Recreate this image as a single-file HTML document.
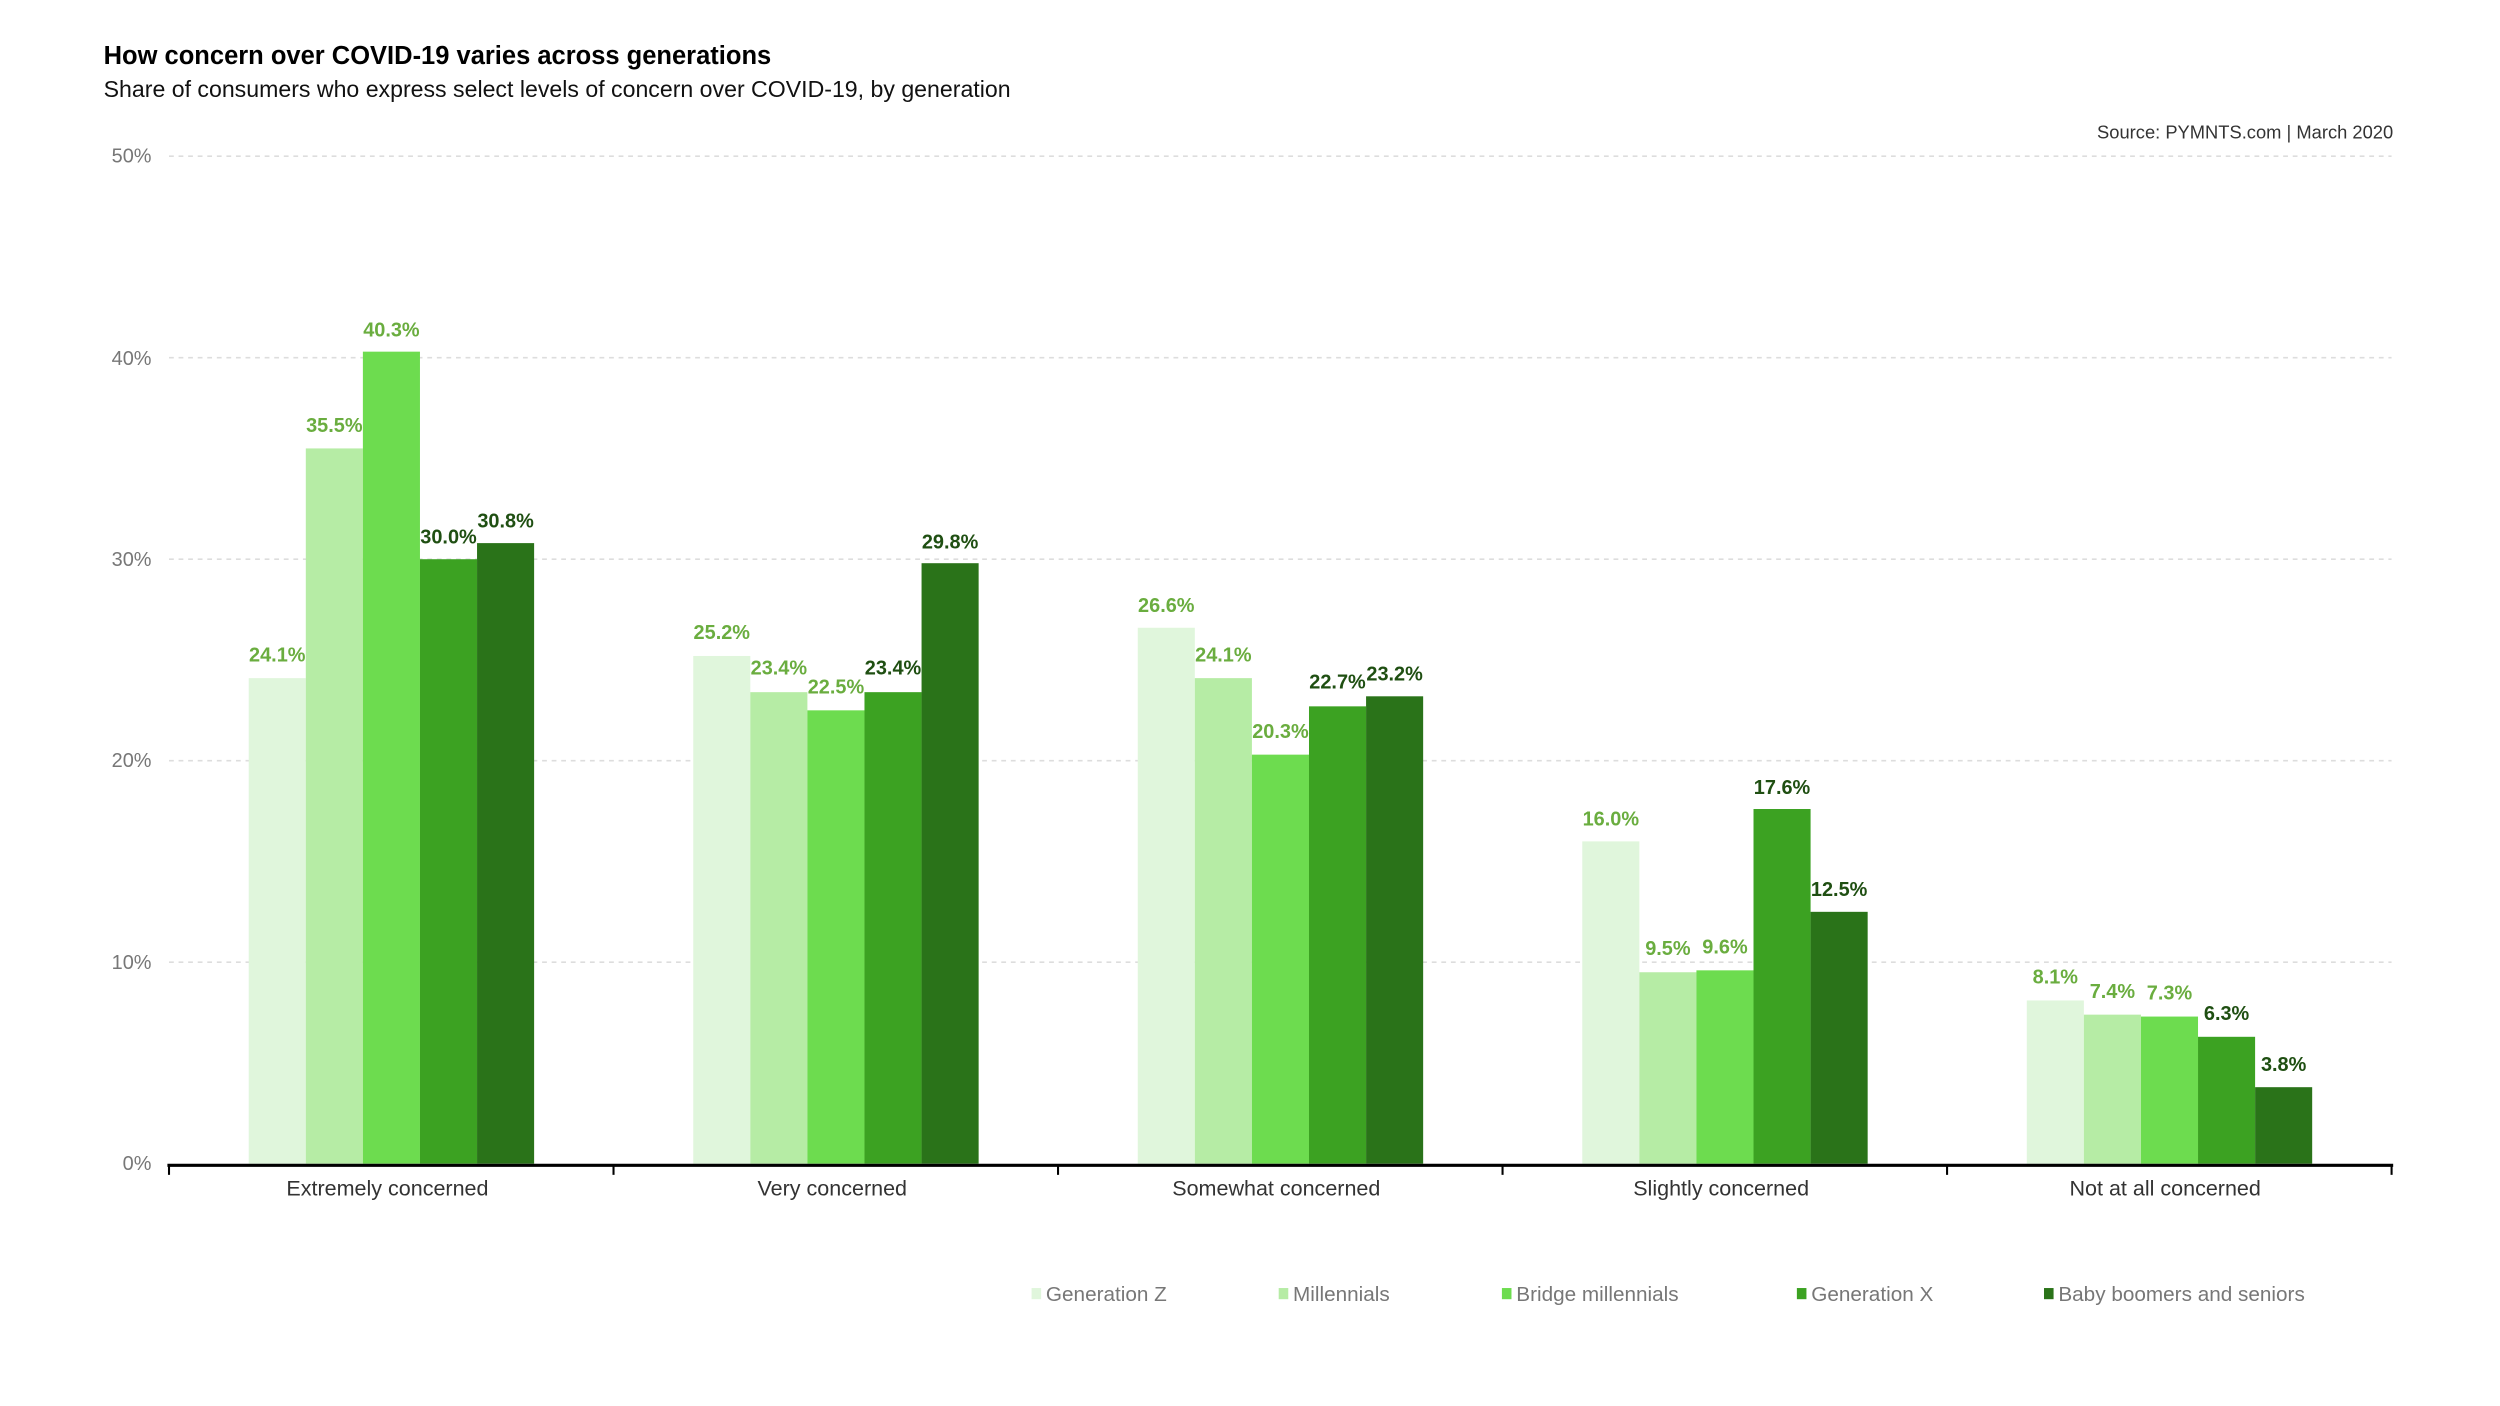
<!DOCTYPE html>
<html><head><meta charset="utf-8"><style>
html,body{margin:0;padding:0;background:#fff;}
svg{display:block;}
text{font-family:"Liberation Sans",sans-serif;}
.lg{font-weight:bold;font-size:12.5px;fill:#6aad3f;text-anchor:middle;}
.ld{font-weight:bold;font-size:12.5px;fill:#1f4f12;text-anchor:middle;}
.yt{font-size:12.5px;fill:#777;text-anchor:end;}
.xt{font-size:13.5px;fill:#333;text-anchor:middle;}
.leg{font-size:13px;fill:#777;}
</style></head><body>
<svg width="2500" height="1406" viewBox="0 0 1568 882" preserveAspectRatio="none">
<text x="65" y="40" font-size="16" font-weight="bold" fill="#000">How concern over COVID-19 varies across generations</text>
<text x="65" y="61" font-size="14.5" fill="#111">Share of consumers who express select levels of concern over COVID-19, by generation</text>
<text x="1501" y="87" font-size="11.5" fill="#333" text-anchor="end">Source: PYMNTS.com  |  March 2020</text>
<g stroke="#ddd" stroke-dasharray="3,3" stroke-width="1">
<line x1="106" y1="98" x2="1500" y2="98"/><line x1="106" y1="224.4" x2="1500" y2="224.4"/><line x1="106" y1="350.8" x2="1500" y2="350.8"/><line x1="106" y1="477.2" x2="1500" y2="477.2"/><line x1="106" y1="603.6" x2="1500" y2="603.6"/>
</g>
<text class="yt" x="95" y="102">50%</text><text class="yt" x="95" y="229">40%</text><text class="yt" x="95" y="355">30%</text><text class="yt" x="95" y="481">20%</text><text class="yt" x="95" y="608">10%</text><text class="yt" x="95" y="734">0%</text>
<g>
<rect x="156" y="425.4" width="35.8" height="304.6" fill="#e0f6dc"/><rect x="191.8" y="281.3" width="35.8" height="448.7" fill="#b6eca5"/><rect x="227.6" y="220.6" width="35.8" height="509.4" fill="#6ddc4f"/><rect x="263.4" y="350.8" width="35.8" height="379.2" fill="#3ca222"/><rect x="299.2" y="340.7" width="35.8" height="389.3" fill="#2a7319"/>
<rect x="434.8" y="411.5" width="35.8" height="318.5" fill="#e0f6dc"/><rect x="470.6" y="434.2" width="35.8" height="295.8" fill="#b6eca5"/><rect x="506.4" y="445.6" width="35.8" height="284.4" fill="#6ddc4f"/><rect x="542.2" y="434.2" width="35.8" height="295.8" fill="#3ca222"/><rect x="578" y="353.3" width="35.8" height="376.7" fill="#2a7319"/>
<rect x="713.6" y="393.8" width="35.8" height="336.2" fill="#e0f6dc"/><rect x="749.4" y="425.4" width="35.8" height="304.6" fill="#b6eca5"/><rect x="785.2" y="473.4" width="35.8" height="256.6" fill="#6ddc4f"/><rect x="821" y="443.1" width="35.8" height="286.9" fill="#3ca222"/><rect x="856.8" y="436.8" width="35.8" height="293.2" fill="#2a7319"/>
<rect x="992.4" y="527.8" width="35.8" height="202.2" fill="#e0f6dc"/><rect x="1028.2" y="609.9" width="35.8" height="120.1" fill="#b6eca5"/><rect x="1064" y="608.7" width="35.8" height="121.3" fill="#6ddc4f"/><rect x="1099.8" y="507.5" width="35.8" height="222.5" fill="#3ca222"/><rect x="1135.6" y="572" width="35.8" height="158" fill="#2a7319"/>
<rect x="1271.2" y="627.6" width="35.8" height="102.4" fill="#e0f6dc"/><rect x="1307" y="636.5" width="35.8" height="93.5" fill="#b6eca5"/><rect x="1342.8" y="637.7" width="35.8" height="92.3" fill="#6ddc4f"/><rect x="1378.6" y="650.4" width="35.8" height="79.6" fill="#3ca222"/><rect x="1414.4" y="682" width="35.8" height="48" fill="#2a7319"/>
</g>
<g>
<text class="lg" x="173.9" y="415">24.1%</text><text class="lg" x="209.7" y="271">35.5%</text><text class="lg" x="245.5" y="211">40.3%</text><text class="ld" x="281.3" y="341">30.0%</text><text class="ld" x="317.1" y="331">30.8%</text>
<text class="lg" x="452.7" y="401">25.2%</text><text class="lg" x="488.5" y="423">23.4%</text><text class="lg" x="524.3" y="435">22.5%</text><text class="ld" x="560.1" y="423">23.4%</text><text class="ld" x="595.9" y="344">29.8%</text>
<text class="lg" x="731.5" y="384">26.6%</text><text class="lg" x="767.3" y="415">24.1%</text><text class="lg" x="803.1" y="463">20.3%</text><text class="ld" x="838.9" y="432">22.7%</text><text class="ld" x="874.7" y="427">23.2%</text>
<text class="lg" x="1010.3" y="518">16.0%</text><text class="lg" x="1046.1" y="599">9.5%</text><text class="lg" x="1081.9" y="598">9.6%</text><text class="ld" x="1117.7" y="498">17.6%</text><text class="ld" x="1153.5" y="562">12.5%</text>
<text class="lg" x="1289.1" y="617">8.1%</text><text class="lg" x="1324.9" y="626">7.4%</text><text class="lg" x="1360.7" y="627">7.3%</text><text class="ld" x="1396.5" y="640">6.3%</text><text class="ld" x="1432.3" y="672">3.8%</text>
</g>
<line x1="105" y1="731" x2="1501" y2="731" stroke="#000" stroke-width="2"/>
<g stroke="#000" stroke-width="1.3">
<line x1="106" y1="731" x2="106" y2="737"/><line x1="384.8" y1="731" x2="384.8" y2="737"/><line x1="663.6" y1="731" x2="663.6" y2="737"/><line x1="942.4" y1="731" x2="942.4" y2="737"/><line x1="1221.2" y1="731" x2="1221.2" y2="737"/><line x1="1500" y1="731" x2="1500" y2="737"/>
</g>
<text class="xt" x="243" y="750">Extremely concerned</text><text class="xt" x="522" y="750">Very concerned</text><text class="xt" x="800.5" y="750">Somewhat concerned</text><text class="xt" x="1079.5" y="750">Slightly concerned</text><text class="xt" x="1358" y="750">Not at all concerned</text>
<rect x="647" y="808" width="6" height="7" fill="#e0f6dc"/><text class="leg" x="656" y="816">Generation Z</text>
<rect x="802" y="808" width="6" height="7" fill="#b6eca5"/><text class="leg" x="811" y="816">Millennials</text>
<rect x="942" y="808" width="6" height="7" fill="#6ddc4f"/><text class="leg" x="951" y="816">Bridge millennials</text>
<rect x="1127" y="808" width="6" height="7" fill="#3ca222"/><text class="leg" x="1136" y="816">Generation X</text>
<rect x="1282" y="808" width="6" height="7" fill="#2a7319"/><text class="leg" x="1291" y="816">Baby boomers and seniors</text>
</svg>
</body></html>
